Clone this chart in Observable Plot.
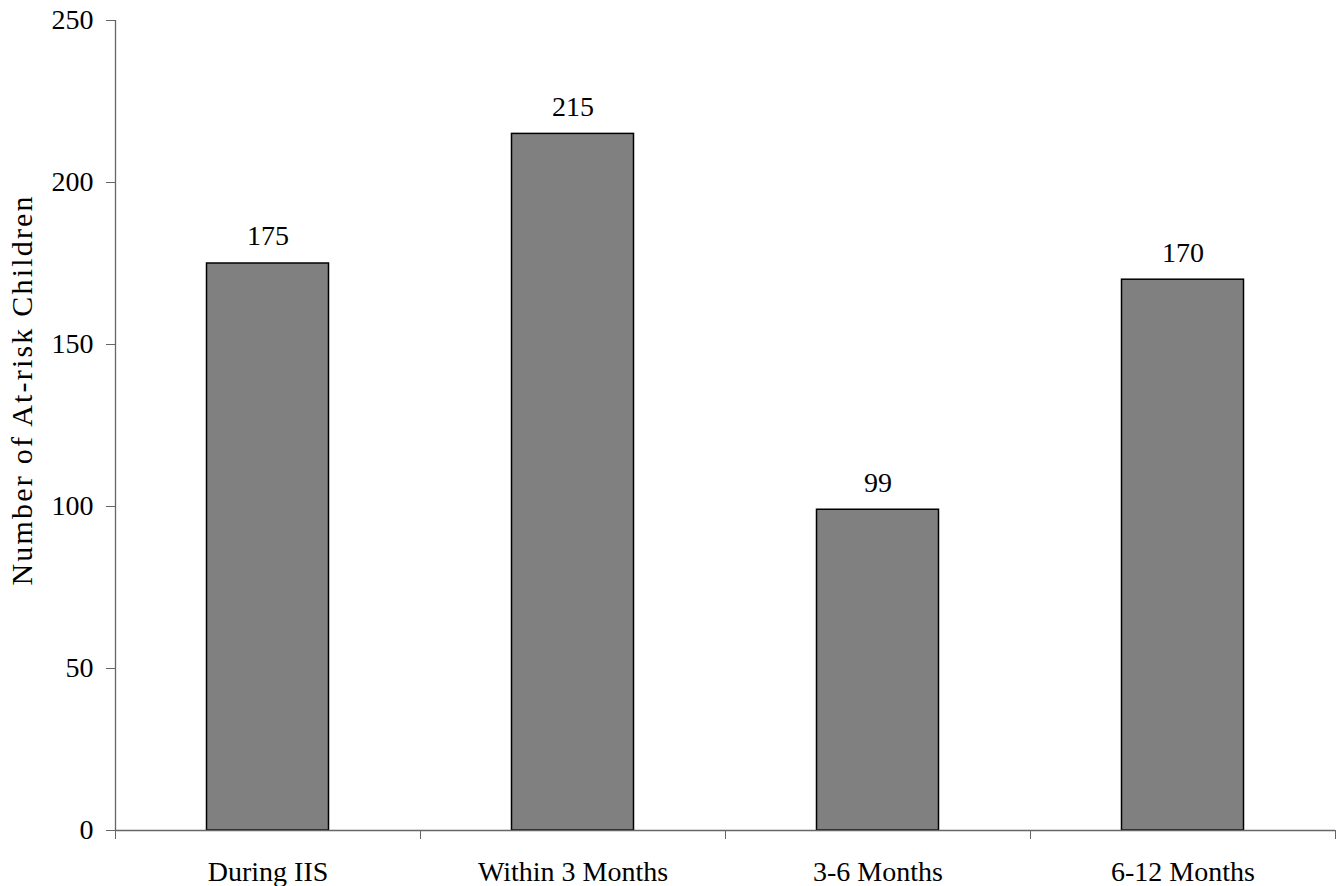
<!DOCTYPE html>
<html>
<head>
<meta charset="utf-8">
<script src="https://cdn.jsdelivr.net/npm/d3@7"></script>
<script src="https://cdn.jsdelivr.net/npm/@observablehq/plot@0.6"></script>
<style>
  html, body { margin: 0; padding: 0; background: white; }
  .ylab text { letter-spacing: 2.2px; }
</style>
</head>
<body>
<div id="chart"></div>
<script>
const categories = ["During IIS", "Within 3 Months", "3-6 Months", "6-12 Months"];
const counts = [175, 215, 99, 170];
const yTicks = [0, 50, 100, 150, 200, 250];
const yLabel = "Number of At-risk Children";

const data = categories.map((c, i) => ({cat: c, i, value: counts[i]}));
const boundaries = d3.range(categories.length + 1);
const centers = categories.map((c, i) => i + 0.5);

const chart = Plot.plot({
  width: 1337,
  height: 886,
  marginLeft: 115,
  marginRight: 2,
  marginTop: 20,
  marginBottom: 56,
  style: {fontFamily: "'Liberation Serif', 'Times New Roman', serif", fontSize: "28px", background: "white", color: "black"},
  x: {type: "linear", domain: [0, categories.length]},
  y: {domain: [0, 250]},
  marks: [
    Plot.rectY(data, {x1: d => d.i + 0.3, x2: d => d.i + 0.7, y: "value", fill: "#808080", stroke: "black", strokeWidth: 1.5}),
    Plot.text(data, {x: d => d.i + 0.5, y: "value", text: d => String(d.value), dy: -27, fontSize: 28, fill: "black"}),
    Plot.ruleY([0], {stroke: "#666", strokeWidth: 1.3}),
    Plot.ruleX([0], {y1: 0, y2: 250, stroke: "#666", strokeWidth: 1.3}),
    Plot.axisY({ticks: yTicks, tickSize: 9, tickPadding: 13, fontSize: 28, stroke: "#666", label: null}),
    Plot.axisX({ticks: boundaries, tickSize: 9, tickFormat: () => "", stroke: "#666", label: null}),
    Plot.axisX({ticks: centers, tickSize: 0, tickPadding: 31, tickFormat: d => categories[Math.floor(d)], fontSize: 28, label: null}),
    Plot.text([yLabel], {frameAnchor: "left", rotate: -90, textAnchor: "start", dx: -93, dy: 160, fontSize: 30, fill: "black", className: "ylab"})
  ]
});
document.getElementById("chart").appendChild(chart);
</script>
</body>
</html>
